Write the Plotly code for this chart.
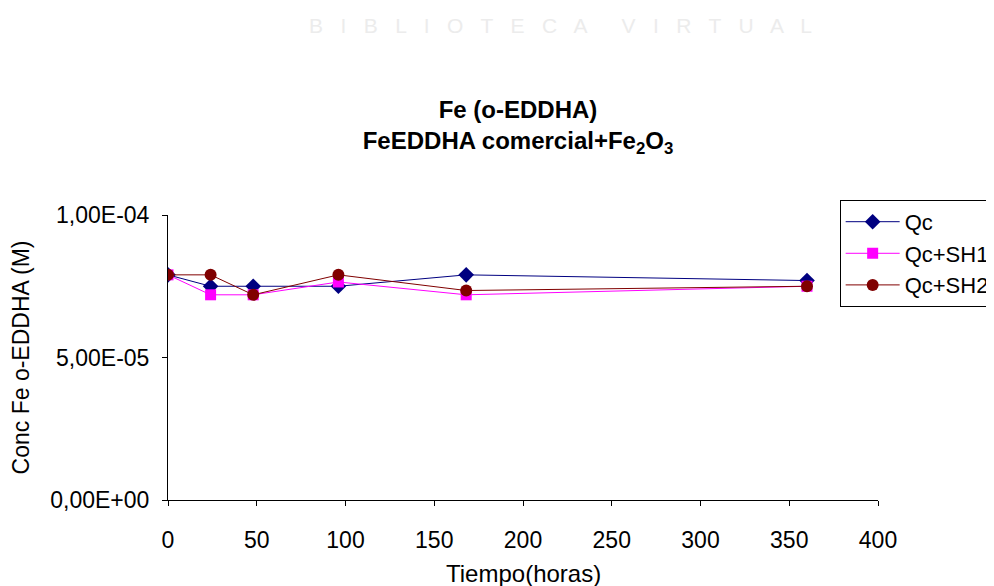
import plotly.graph_objects as go

# data
horas = [0, 24, 48, 96, 168, 360]
qc = [7.9e-5, 7.5e-5, 7.5e-5, 7.5e-5, 7.9e-5, 7.7e-5]
qc_sh1 = [7.9e-5, 7.2e-5, 7.2e-5, 7.65e-5, 7.2e-5, 7.5e-5]
qc_sh2 = [7.9e-5, 7.9e-5, 7.2e-5, 7.9e-5, 7.35e-5, 7.5e-5]

y_ticks = [0, 5e-5, 1e-4]
y_ticktext = ["0,00E+00", "5,00E-05", "1,00E-04"]

font = "Liberation Sans, Arial, sans-serif"

fig = go.Figure()
fig.add_trace(go.Scatter(x=horas, y=qc, name="Qc", mode="lines+markers",
                         line=dict(color="#000080", width=1),
                         marker=dict(symbol="diamond", size=12, color="#000080")))
fig.add_trace(go.Scatter(x=horas, y=qc_sh1, name="Qc+SH1", mode="lines+markers",
                         line=dict(color="#FF00FF", width=1),
                         marker=dict(symbol="square", size=11, color="#FF00FF")))
fig.add_trace(go.Scatter(x=horas, y=qc_sh2, name="Qc+SH2", mode="lines+markers",
                         line=dict(color="#800000", width=1),
                         marker=dict(symbol="circle", size=12, color="#800000")))

# faint watermark at the top
fig.add_annotation(text="B   I   B   L   I   O   T   E   C   A      V   I   R   T   U   A   L",
                   xref="paper", yref="paper", x=(552 - 160) / 710, y=1 + (207 - 17) / 285,
                   xanchor="center", yanchor="middle",
                   showarrow=False, font=dict(family=font, size=21, color="#ececec"))

# x axis title, placed by hand so it sits right above the bottom edge
fig.add_annotation(text="Tiempo(horas)", xref="paper", yref="paper",
                   x=0.5, y=-73 / 285, xanchor="center", yanchor="middle",
                   showarrow=False, font=dict(family=font, size=24, color="black"))

fig.update_layout(
    width=994, height=586,
    plot_bgcolor="white", paper_bgcolor="white",
    margin=dict(l=160, r=124, t=207, b=94, autoexpand=False),
    font=dict(family=font, size=22, color="black"),
    title=dict(text="<b>Fe (o-EDDHA)<br>FeEDDHA comercial+Fe<sub>2</sub>O<sub>3</sub></b>",
               x=(510 / 994), xanchor="center", y=1 - 110 / 586, yanchor="middle",
               font=dict(size=24)),
    xaxis=dict(range=[0, 400], automargin=True,
               tickvals=list(range(0, 401, 50)), showgrid=False, zeroline=False,
               showline=True, linecolor="black", linewidth=1,
               ticks="outside", ticklen=5, tickcolor="black", ticklabelstandoff=14,
               tickfont=dict(size=23)),
    yaxis=dict(title=dict(text="Conc Fe o-EDDHA (M)", standoff=14, font=dict(size=23)),
               range=[0, 1e-4], automargin=True,
               tickvals=y_ticks, ticktext=y_ticktext, showgrid=False, zeroline=False,
               showline=True, linecolor="black", linewidth=1,
               ticks="outside", ticklen=5, tickcolor="black", ticklabelstandoff=8,
               tickfont=dict(size=23)),
    legend=dict(x=0.946, y=1.053, xanchor="left", yanchor="top",
                bordercolor="black", borderwidth=1, bgcolor="white",
                font=dict(size=22), tracegroupgap=0, itemwidth=54),
    showlegend=True,
)

fig.write_html("out.html")
